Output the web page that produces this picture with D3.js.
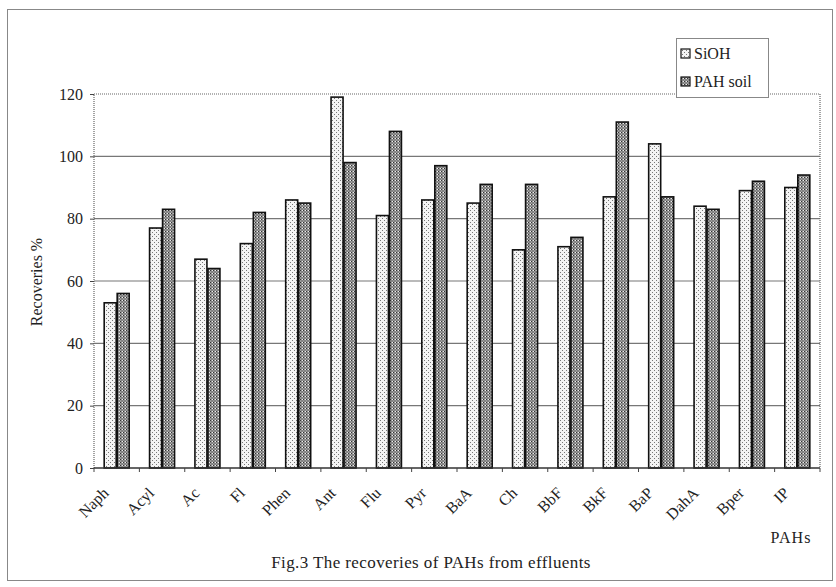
<!DOCTYPE html>
<html><head><meta charset="utf-8">
<script src="https://cdn.jsdelivr.net/npm/d3@7"></script>
<style>body{margin:0;background:#fff}svg{display:block}</style>
</head><body>
<svg id="c" width="836" height="587"></svg>
<script>
const categories = ["Naph","Acyl","Ac","Fl","Phen","Ant","Flu","Pyr","BaA","Ch","BbF","BkF","BaP","DahA","Bper","IP"];
const siohValues = [53,77,67,72,86,119,81,86,85,70,71,87,104,84,89,90];
const pahSoilValues = [56,83,64,82,85,98,108,97,91,91,74,111,87,83,92,94];
const seriesNames = ["SiOH","PAH soil"];
const yTicks = [0,20,40,60,80,100,120];

const svg = d3.select("#c");
const font = "'Liberation Serif','Times New Roman',serif";
const defs = svg.append("defs");
const p1 = defs.append("pattern").attr("id","pLight").attr("patternUnits","userSpaceOnUse").attr("width",4).attr("height",4);
p1.append("rect").attr("width",4).attr("height",4).attr("fill","#f4f4f4");
p1.append("rect").attr("x",0).attr("y",0).attr("width",1).attr("height",1).attr("fill","#777");
p1.append("rect").attr("x",2).attr("y",2).attr("width",1).attr("height",1).attr("fill","#777");
const p2 = defs.append("pattern").attr("id","pDark").attr("patternUnits","userSpaceOnUse").attr("width",3).attr("height",3);
p2.append("rect").attr("width",3).attr("height",3).attr("fill","#9a9a9a");
p2.append("rect").attr("x",0).attr("y",0).attr("width",1).attr("height",1).attr("fill","#333");
p2.append("rect").attr("x",1.5).attr("y",1.5).attr("width",1).attr("height",1).attr("fill","#444");
p2.append("rect").attr("x",2).attr("y",0).attr("width",1).attr("height",1).attr("fill","#eee");

// outer frame
svg.append("rect").attr("x",7.5).attr("y",9.5).attr("width",825).attr("height",571)
  .attr("fill","none").attr("stroke","#888").attr("stroke-width",1);

const L=94, R=820, T=94, B=468;
const x = d3.scaleBand().domain(categories).range([L,R]);
const y = d3.scaleLinear().domain([0,120]).range([B,T]);

// gridlines
svg.append("g").selectAll("line").data(yTicks.filter(d=>d>0&&d<120)).join("line")
  .attr("x1",L).attr("x2",R).attr("y1",d=>y(d)).attr("y2",d=>y(d))
  .attr("stroke","#777").attr("stroke-width",1.2);
// dotted frame top/right/left
svg.append("path").attr("d",`M${L},${B}V${T}H${R}V${B}`).attr("fill","none")
  .attr("stroke","#666").attr("stroke-width",1.2).attr("stroke-dasharray","1,1");

// bars
const barW = 12;
const data = categories.map((c,i)=>({c, v:[siohValues[i], pahSoilValues[i]]}));
const fills = ["url(#pLight)","url(#pDark)"];
const g = svg.append("g");
data.forEach(d=>{
  const cx = x(d.c)+x.bandwidth()/2;
  d.v.forEach((v,k)=>{
    g.append("rect").attr("x", k===0? cx-barW-0.5 : cx+0.5).attr("y",y(v))
      .attr("width",barW).attr("height",B-y(v)).attr("fill",fills[k])
      .attr("stroke","#111").attr("stroke-width",1.6);
  });
});

// y axis
const ya = svg.append("g").attr("transform",`translate(${L},0)`)
  .call(d3.axisLeft(y).tickValues(yTicks).tickSize(4).tickPadding(7));
ya.select(".domain").remove();
ya.selectAll("line").attr("stroke","#444");
ya.selectAll("text").attr("font-family",font).attr("font-size",16).attr("fill","#222");

// x axis
const xa = svg.append("g").attr("transform",`translate(0,${B})`);
xa.append("line").attr("x1",L).attr("x2",R).attr("stroke","#333").attr("stroke-width",1.5);
xa.selectAll("line.t").data(categories.map(c=>x(c)).concat([R])).join("line").attr("class","t")
  .attr("x1",d=>d).attr("x2",d=>d).attr("y1",0).attr("y2",4).attr("stroke","#444");
xa.selectAll("text").data(categories).join("text")
  .attr("transform",d=>`translate(${x(d)+x.bandwidth()/2-7},${26}) rotate(-45)`)
  .attr("text-anchor","end").attr("font-family",font).attr("font-size",16).attr("fill","#222")
  .text(d=>d);

// axis titles
svg.append("text").attr("transform","translate(42,282) rotate(-90)").attr("text-anchor","middle")
  .attr("font-family",font).attr("font-size",16).attr("fill","#222").text("Recoveries %");
svg.append("text").attr("x",791).attr("y",543).attr("text-anchor","middle")
  .attr("font-family",font).attr("font-size",16).attr("letter-spacing",1).attr("fill","#222").text("PAHs");
svg.append("text").attr("x",431).attr("y",568).attr("text-anchor","middle")
  .attr("font-family",font).attr("font-size",17).attr("letter-spacing",0.4).attr("fill","#222").text("Fig.3 The recoveries of PAHs from effluents");

// legend
const lg = svg.append("g");
lg.append("rect").attr("x",676.5).attr("y",38.5).attr("width",92).attr("height",59)
  .attr("fill","#fff").attr("stroke","#888").attr("stroke-width",1);
seriesNames.forEach((n,i)=>{
  const yy = 54 + i*28;
  lg.append("rect").attr("x",681).attr("y",yy-5).attr("width",9).attr("height",9)
    .attr("fill",fills[i]).attr("stroke","#111").attr("stroke-width",1.2);
  lg.append("text").attr("x",694).attr("y",yy+5).attr("font-family",font).attr("font-size",16)
    .attr("fill","#222").text(n);
});
</script>
</body></html>
